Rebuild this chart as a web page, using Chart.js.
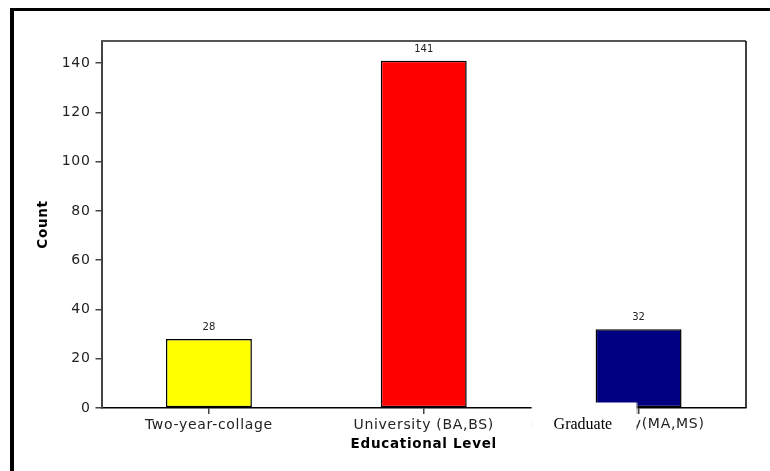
<!DOCTYPE html>
<html>
<head>
<meta charset="utf-8">
<script src="https://cdn.jsdelivr.net/npm/chart.js@4"></script>
<style>
  body { margin: 0; background: #fff; }
  canvas { display: block; }
</style>
</head>
<body>
<canvas id="eduChart" width="770" height="471"></canvas>
<script>
// data
const levels = ['Two-year-collage', 'University (BA,BS)', 'Graduate Study(MA,MS)'];
const counts = [28, 141, 32];
const barColors = ['#ffff00', '#ff0000', '#000080'];
const yTicks = [0, 20, 40, 60, 80, 100, 120, 140];

Chart.defaults.font.family = 'DejaVu Sans';
Chart.defaults.color = '#222';

const decor = {
  id: 'decor',
  beforeDraw(chart) {
    chart.ctx.letterSpacing = '0.7px';
  },
  afterDatasetsDraw(chart) {
    const ctx = chart.ctx;
    const area = chart.chartArea;
    ctx.save();
    // plot frame: gray top, black right
    ctx.strokeStyle = '#555';
    ctx.lineWidth = 2;
    ctx.beginPath();
    ctx.moveTo(area.left, area.top);
    ctx.lineTo(area.right, area.top);
    ctx.stroke();
    ctx.strokeStyle = '#000';
    ctx.lineWidth = 1.5;
    ctx.beginPath();
    ctx.moveTo(area.right, area.top);
    ctx.lineTo(area.right, area.bottom);
    ctx.stroke();

    // value labels over bars
    ctx.letterSpacing = '0px';
    ctx.font = '10px "DejaVu Sans"';
    ctx.fillStyle = '#222';
    ctx.textAlign = 'center';
    ctx.textBaseline = 'middle';
    chart.getDatasetMeta(0).data.forEach((bar, i) => {
      ctx.fillText(String(counts[i]), bar.x, bar.y - 11.5);
    });
    ctx.restore();
  },
  afterDraw(chart) {
    const ctx = chart.ctx;
    const xs = chart.scales.x;
    const px = xs.getPixelForValue(2);
    const base = chart.chartArea.bottom;
    ctx.save();
    // third category label, drawn off-centre as in the source
    ctx.save();
    ctx.beginPath();
    ctx.rect(px - 107, base, 200, 40);
    ctx.clip();
    ctx.letterSpacing = '0.7px';
    ctx.font = '14px "DejaVu Sans"';
    ctx.fillStyle = '#222';
    ctx.textAlign = 'right';
    ctx.textBaseline = 'top';
    ctx.fillText(levels[2], px + 66, base + 9);
    ctx.restore();
    // white patch pasted over it
    ctx.letterSpacing = '0px';
    ctx.fillStyle = '#fff';
    ctx.fillRect(px - 107, base - 5.5, 105, 45);
    ctx.strokeStyle = '#999';
    ctx.lineWidth = 1;
    ctx.beginPath();
    ctx.moveTo(px - 1.5, base - 5.5);
    ctx.lineTo(px - 1.5, base + 6);
    ctx.stroke();
    ctx.font = '16px "Liberation Serif"';
    ctx.fillStyle = '#000';
    ctx.textAlign = 'left';
    ctx.textBaseline = 'alphabetic';
    ctx.fillText('Graduate', px - 85, base + 21);
    // outer frame (top and left only visible)
    ctx.fillStyle = '#000';
    ctx.fillRect(10, 8, 760, 3);
    ctx.fillRect(10, 8, 4, 463);
    ctx.restore();
  }
};

new Chart(document.getElementById('eduChart').getContext('2d'), {
  type: 'bar',
  data: {
    labels: levels,
    datasets: [{
      data: counts,
      backgroundColor: barColors,
      borderColor: '#000',
      borderWidth: 1.5,
      borderSkipped: false,
      barPercentage: 0.8,
      categoryPercentage: 0.5
    }]
  },
  options: {
    responsive: false,
    animation: false,
    layout: { padding: { left: 0, top: 41, right: 24, bottom: 0 } },
    plugins: { legend: { display: false }, tooltip: { enabled: false } },
    scales: {
      x: {
        grid: { drawOnChartArea: false, offset: false, tickLength: 6, color: '#444', lineWidth: 1.5 },
        border: { color: '#000', width: 1.5 },
        ticks: {
          font: { size: 14 }, padding: 3, maxRotation: 0, autoSkip: false,
          callback: (v, i) => i === 2 ? '' : levels[i]
        },
        title: {
          display: true, text: 'Educational Level', color: '#000',
          font: { size: 13.5, weight: 'bold' }, padding: { top: 0, bottom: 18 }
        },
        afterFit: s => { s.height = 63; }
      },
      y: {
        min: 0, max: 149,
        grid: { drawOnChartArea: false, tickLength: 6, color: '#444', lineWidth: 1.5 },
        border: { color: '#444', width: 2 },
        ticks: { font: { size: 14 }, padding: 5, stepSize: 20 },
        afterBuildTicks: s => { s.ticks = yTicks.map(v => ({ value: v })); },
        title: {
          display: true, text: 'Count', color: '#000',
          font: { size: 13.5, weight: 'bold' }, padding: { top: 35, bottom: 0 }
        },
        afterFit: s => { s.width = 101.5; }
      }
    }
  },
  plugins: [decor]
});
</script>
</body>
</html>
